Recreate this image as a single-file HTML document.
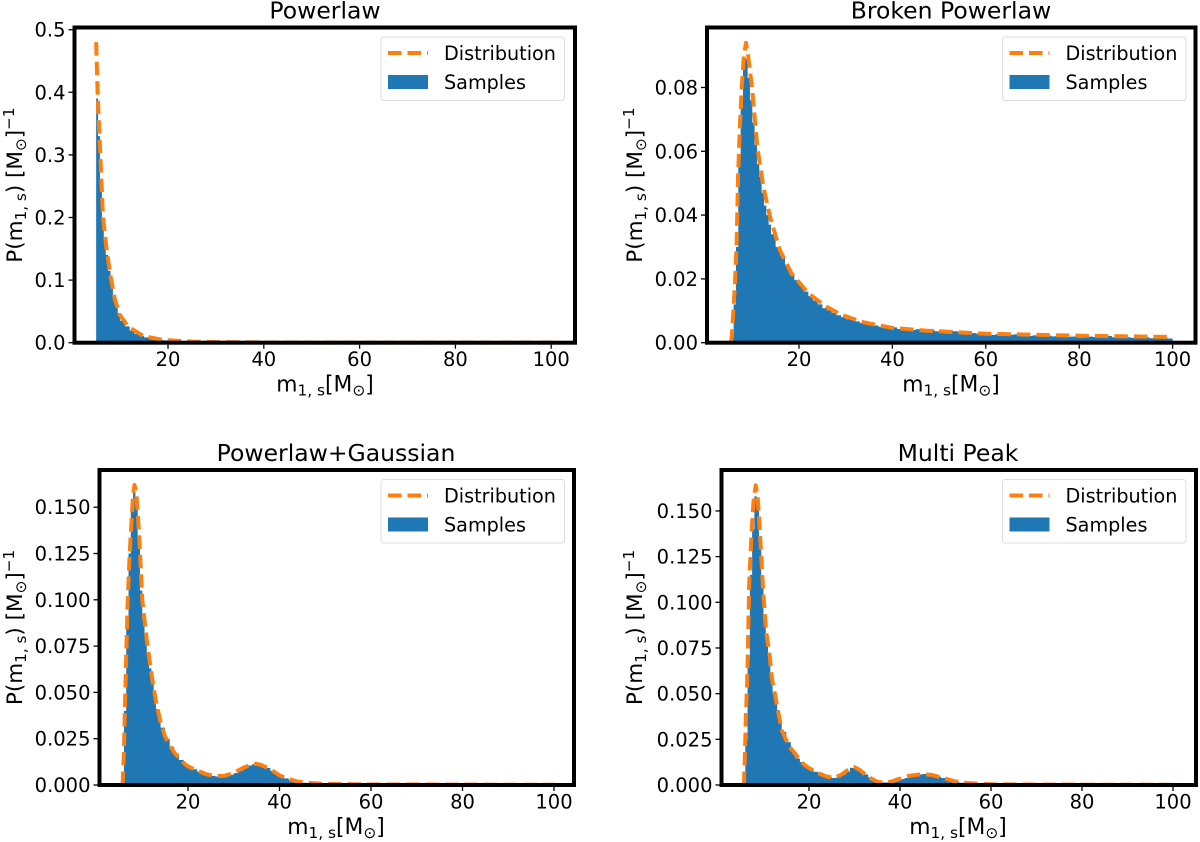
<!DOCTYPE html>
<html>
<head>
<meta charset="utf-8">
<title>Mass distributions</title>
<style>
html,body{margin:0;padding:0;background:#fff;}
svg{display:block;font-family:"DejaVu Sans",sans-serif;}
</style>
</head>
<body>
<svg id="chart" xmlns="http://www.w3.org/2000/svg" width="1200" height="842" viewBox="0 0 1200 842"></svg>
<script>
// ---- Tick labels ----
const xTicks = [20, 40, 60, 80, 100];
const powerlawYTicks = ["0.0", "0.1", "0.2", "0.3", "0.4", "0.5"];
const brokenYTicks = ["0.00", "0.02", "0.04", "0.06", "0.08"];
const gaussianYTicks = ["0.000", "0.025", "0.050", "0.075", "0.100", "0.125", "0.150"];
const multiYTicks = ["0.000", "0.025", "0.050", "0.075", "0.100", "0.125", "0.150"];

// ---- Powerlaw ----
const powerlawCurveMass = [5, 5.3, 5.87, 6.43, 7.2, 8.03, 8.94, 9.98, 11.7, 14.85, 19, 25, 30, 40, 50, 60, 80, 100];
const powerlawCurve = [0.48, 0.4, 0.3, 0.2, 0.148, 0.105, 0.0683, 0.044, 0.0256, 0.0107, 0.0043, 0.0018, 0.001, 0.0004, 0.0002, 0.0001, 0.00005, 0.00003];
const powerlawBinEdges = [5, 5.4, 5.8, 6.2, 6.6, 7, 7.5, 8, 8.5, 9, 9.5, 10, 11, 12, 13, 14, 15, 16, 17, 18, 19, 20, 21, 22, 23, 24, 25, 26, 27, 28, 29, 30, 35, 40, 50, 60, 80, 100];
const powerlawBins = [0.39, 0.33, 0.26, 0.2, 0.165, 0.14, 0.115, 0.092, 0.074, 0.058, 0.047, 0.035, 0.026, 0.019, 0.014, 0.0105, 0.0085, 0.0068, 0.0055, 0.0045, 0.0037, 0.003, 0.0026, 0.0022, 0.0019, 0.0016, 0.0014, 0.0012, 0.001, 0.0009, 0.0008, 0.0006, 0.0004, 0.0002, 0.0001, 0.00005, 0.00003];

// ---- Broken Powerlaw ----
const brokenCurveMass = [5.5, 5.7, 6.3, 6.66, 6.95, 7.35, 7.73, 8.2, 8.65, 9.1, 9.94, 11.07, 12.36, 13.8, 15.9, 18.4, 22, 25.6, 29.1, 34.1, 39.8, 47, 60, 70, 80, 90, 100];
const brokenCurve = [0, 0.004, 0.0187, 0.032, 0.052, 0.068, 0.08, 0.09, 0.094, 0.09, 0.08, 0.0614, 0.0489, 0.0395, 0.029, 0.0217, 0.0155, 0.0115, 0.0087, 0.0063, 0.0047, 0.0038, 0.0028, 0.0025, 0.0022, 0.002, 0.0018];
const brokenBins = [0, 0.002, 0.012, 0.03, 0.058, 0.074, 0.088, 0.089, 0.083, 0.076, 0.069, 0.062, 0.056, 0.052, 0.047, 0.043, 0.04, 0.037, 0.034, 0.03, 0.0272, 0.0245, 0.0212, 0.0196, 0.0178, 0.016, 0.0146, 0.0132, 0.012, 0.0108, 0.0102, 0.0094, 0.0086, 0.008, 0.0074, 0.0073, 0.0067, 0.0062, 0.006, 0.0056, 0.0054, 0.005, 0.0048, 0.0046, 0.0048, 0.0043, 0.0042, 0.0043, 0.004, 0.0042, 0.0038, 0.0038, 0.0041, 0.0036, 0.0034, 0.0035, 0.0037, 0.0036, 0.0033, 0.003, 0.0032, 0.003, 0.0028, 0.0029, 0.0028, 0.0024, 0.0026, 0.0023, 0.0027, 0.0025, 0.0026, 0.0023, 0.0022, 0.0021, 0.0023, 0.0021, 0.0023, 0.0022, 0.002, 0.0021, 0.002, 0.0018, 0.0019, 0.002, 0.0016, 0.0018, 0.0019, 0.0018, 0.0022, 0.002, 0.0021, 0.0017, 0.0017, 0.0016, 0.0017, 0.0015, 0.0014, 0.0019, 0.0017, 0.0014, 0.0015, 0.0013, 0.0014, 0.0013];

// ---- Powerlaw+Gaussian ----
const gaussianCurveMass = [5.7, 6, 6.2, 6.5, 6.8, 7.2, 7.5, 8, 8.3, 8.7, 9.3, 10, 11, 12, 13, 14, 15, 16, 17, 18, 19, 20, 22, 24, 26, 28, 30, 32, 34, 35, 36, 38, 40, 42, 44, 46, 50, 60, 80, 100];
const gaussianCurve = [0, 0.018, 0.04, 0.07, 0.098, 0.122, 0.136, 0.157, 0.162, 0.158, 0.136, 0.1, 0.078, 0.06, 0.045, 0.034, 0.026, 0.0215, 0.0175, 0.0145, 0.012, 0.01, 0.0078, 0.0058, 0.0048, 0.005, 0.0065, 0.0092, 0.0112, 0.0114, 0.0108, 0.0085, 0.0052, 0.0032, 0.0018, 0.0012, 0.0006, 0.0003, 0.0002, 0.0001];
const gaussianBins = [0, 0.004, 0.04, 0.09, 0.125, 0.148, 0.158, 0.152, 0.13, 0.105, 0.09, 0.08, 0.07, 0.063, 0.055, 0.048, 0.041, 0.036, 0.031, 0.025, 0.0205, 0.017, 0.0135, 0.0115, 0.0098, 0.0085, 0.0072, 0.0062, 0.0055, 0.0049, 0.0046, 0.0045, 0.005, 0.0056, 0.0064, 0.0076, 0.0092, 0.0105, 0.0112, 0.0118, 0.0106, 0.0092, 0.0076, 0.006, 0.0047, 0.0036, 0.0028, 0.0021, 0.0016, 0.0012, 0.001, 0.0008, 0.0007, 0.0006, 0.0006, 0.0005, 0.0005, 0.0005, 0.0004, 0.0004, 0.0004, 0.0004, 0.0003, 0.0003, 0.0003, 0.0003, 0.0003, 0.0003, 0.0003, 0.0003, 0.0002, 0.0002, 0.0002, 0.0002, 0.0002, 0.0002, 0.0002, 0.0002, 0.0002, 0.0002, 0.0002, 0.0002, 0.0002, 0.0002, 0.0002, 0.0002, 0.0002, 0.0002, 0.0002, 0.0001, 0.0001, 0.0001, 0.0001, 0.0001, 0.0001, 0.0001, 0.0001, 0.0001, 0.0001, 0.0001, 0.0001, 0.0001, 0.0001, 0.0001];

// ---- Multi Peak ----
const multiCurveMass = [5.7, 5.9, 6.1, 6.44, 6.66, 6.88, 7.4, 7.8, 8.28, 8.7, 9.08, 9.6, 9.96, 10.55, 11.4, 11.8, 12.5, 13, 14, 15, 16, 17, 18, 19, 20, 22, 24, 25.5, 27, 29, 30, 31, 33, 35, 36.3, 38, 40, 42, 45, 47, 50, 52, 55, 60, 70, 100];
const multiCurve = [0, 0.015, 0.035, 0.059, 0.0845, 0.112, 0.139, 0.155, 0.164, 0.158, 0.144, 0.121, 0.105, 0.0845, 0.07, 0.059, 0.05, 0.043, 0.03, 0.0245, 0.02, 0.017, 0.0135, 0.011, 0.0093, 0.0065, 0.0045, 0.004, 0.0055, 0.009, 0.0098, 0.0085, 0.0045, 0.0018, 0.0013, 0.0018, 0.0035, 0.005, 0.006, 0.0055, 0.0035, 0.002, 0.001, 0.0004, 0.0002, 0.0001];
const multiBins = [0, 0.002, 0.025, 0.07, 0.115, 0.14, 0.158, 0.155, 0.135, 0.112, 0.09, 0.078, 0.069, 0.058, 0.05, 0.046, 0.041, 0.035, 0.029, 0.0235, 0.0185, 0.0145, 0.0125, 0.0102, 0.0085, 0.0072, 0.0062, 0.0052, 0.0044, 0.0038, 0.0042, 0.0055, 0.0072, 0.0094, 0.0098, 0.0078, 0.0058, 0.0042, 0.0028, 0.0018, 0.0014, 0.0014, 0.0016, 0.0022, 0.0032, 0.0038, 0.0046, 0.0052, 0.0058, 0.006, 0.0058, 0.0054, 0.0046, 0.0038, 0.003, 0.0024, 0.0018, 0.0012, 0.001, 0.0008, 0.0006, 0.0005, 0.0005, 0.0004, 0.0004, 0.0003, 0.0003, 0.0003, 0.0003, 0.0003, 0.0002, 0.0002, 0.0002, 0.0002, 0.0002, 0.0002, 0.0002, 0.0002, 0.0002, 0.0002, 0.0002, 0.0002, 0.0002, 0.0002, 0.0001, 0.0001, 0.0001, 0.0001, 0.0001, 0.0001, 0.0001, 0.0001, 0.0001, 0.0001, 0.0001, 0.0001, 0.0001, 0.0001, 0.0001, 0.0001, 0.0001, 0.0001, 0.0001, 0.0001];

const NS = "http://www.w3.org/2000/svg";
const svg = document.getElementById("chart");

function mk(tag, parent, attrs, txt) {
  const e = document.createElementNS(NS, tag);
  for (const k in attrs) e.setAttribute(k, attrs[k]);
  if (txt !== undefined) e.textContent = txt;
  parent.appendChild(e);
  return e;
}

// Half-unit bins up to mass 14, one-unit bins beyond that.
function binEdges(count) {
  const edges = [5];
  for (let i = 0; i < count; i++) {
    const last = edges[edges.length - 1];
    edges.push(last < 14 ? last + 0.5 : last + 1);
  }
  return edges;
}

function addMathRuns(textEl, runs) {
  runs.forEach(function (r) {
    const t = mk("tspan", textEl, { "font-size": r[1] }, r[0]);
    if (r[2]) t.setAttribute("dy", r[2]);
  });
}

function drawPanel(p) {
  const g = mk("g", svg, {});
  
  

  const x = function (m) { return p.x20 + (m - 20) * p.xScale; };
  const y = function (v) { return p.y0 - v * p.yScale; };

  // histogram
  let d = "M" + x(p.edges[0]).toFixed(2) + " " + y(0).toFixed(2);
  p.bins.forEach(function (v, i) {
    d += "L" + x(p.edges[i]).toFixed(2) + " " + y(v).toFixed(2);
    d += "L" + x(p.edges[i + 1]).toFixed(2) + " " + y(v).toFixed(2);
  });
  d += "L" + x(p.edges[p.bins.length]).toFixed(2) + " " + y(0).toFixed(2) + "Z";
  const hist = mk("path", g, { d: d, fill: "#1f77b4" });
  
  

  // distribution curve
  const pts = p.curveMass.map(function (m, i) { return x(m).toFixed(2) + "," + y(p.curve[i]).toFixed(2); }).join(" ");
  const line = mk("polyline", g, { points: pts, fill: "none", stroke: "#ff7f0e", "stroke-width": 4, "stroke-dasharray": "13.5 6", "stroke-linejoin": "round" });
  
  

  // frame
  const frame = mk("rect", g, { x: p.left, y: p.top, width: p.right - p.left, height: p.y0 - p.top, fill: "none", stroke: "#000", "stroke-width": 4 });
  
  

  // x ticks
  xTicks.forEach(function (t) {
    mk("line", g, { x1: x(t), x2: x(t), y1: p.y0 + 2, y2: p.y0 + 6, stroke: "#000", "stroke-width": 1.3 });
    const lbl = mk("text", g, { x: x(t), y: p.y0 + 23.5, "text-anchor": "middle", "font-size": 19.5, fill: "#000" }, String(t));
    
    
  });

  // y ticks
  p.yTicks.forEach(function (t) {
    const v = parseFloat(t);
    mk("line", g, { x1: p.left - 6, x2: p.left - 2, y1: y(v), y2: y(v), stroke: "#000", "stroke-width": 1.3 });
    const lbl = mk("text", g, { x: p.left - 9, y: y(v) + 7, "text-anchor": "end", "font-size": 19.5, fill: "#000" }, t);
    
    
  });

  // title
  const title = mk("text", g, { x: p.titleX, y: p.top - 9, "text-anchor": "middle", "font-size": 23.5, fill: "#000" }, p.title);
  
  

  // x label
  const xl = mk("text", g, { x: p.titleX, y: p.y0 + 49, "text-anchor": "middle", "font-size": 21.8, fill: "#000" });
  
  
  addMathRuns(xl, [["m", 21.8], ["1, s", 15.4, 4], ["[M", 21.8, -4], ["\u2299", 15.4, 4], ["]", 21.8, -4]]);

  // y label
  const yc = (p.top + p.y0) / 2 + 0;
  const yl = mk("text", g, { x: 0, y: 0, transform: "translate(" + p.yLabelX + "," + yc + ") rotate(-90)", "text-anchor": "middle", "font-size": 21.5, fill: "#000" });
  
  
  addMathRuns(yl, [["P(m", 21.5], ["1, s", 15.2, 4], [") [M", 21.5, -4], ["\u2299", 15.2, 4], ["]", 21.5, -4], ["\u22121", 15.2, -8]]);

  // legend
  const lg = mk("g", g, {});
  
  
  const lx = p.legendX, ly = p.top + 9.5;
  mk("rect", lg, { x: lx, y: ly, width: 183.5, height: 63.5, rx: 3, fill: "#fff", "fill-opacity": 0.8, stroke: "#dcdcdc", "stroke-width": 1 });
  const lgLine = mk("line", lg, { x1: lx + 7, x2: lx + 47, y1: ly + 16, y2: ly + 16, stroke: "#ff7f0e", "stroke-width": 4, "stroke-dasharray": "13.5 6" });
  
  
  const lgT1 = mk("text", lg, { x: lx + 63, y: ly + 23, "font-size": 19.2, fill: "#000" }, "Distribution");
  
  
  const lgPatch = mk("rect", lg, { x: lx + 7, y: ly + 38, width: 40, height: 14, fill: "#1f77b4" });
  
  
  const lgT2 = mk("text", lg, { x: lx + 63, y: ly + 52, "font-size": 19.2, fill: "#000" }, "Samples");
  
  
}

drawPanel({ slug: "powerlaw", title: "Powerlaw", titleX: 325, left: 74.5, right: 575, top: 27.5, y0: 342.7, x20: 168, xScale: 4.79, yScale: 626, yLabelX: 22, legendX: 381, yTicks: powerlawYTicks, curveMass: powerlawCurveMass, curve: powerlawCurve, edges: powerlawBinEdges, bins: powerlawBins });
drawPanel({ slug: "broken-powerlaw", title: "Broken Powerlaw", titleX: 951, left: 707, right: 1195.5, top: 27.5, y0: 342.7, x20: 799, xScale: 4.67, yScale: 3190, yLabelX: 642, legendX: 1002.5, yTicks: brokenYTicks, curveMass: brokenCurveMass, curve: brokenCurve, edges: binEdges(brokenBins.length), bins: brokenBins });
drawPanel({ slug: "powerlaw-gaussian", title: "Powerlaw+Gaussian", titleX: 336, left: 99.5, right: 574, top: 470, y0: 785, x20: 188, xScale: 4.575, yScale: 1852, yLabelX: 22, legendX: 381, yTicks: gaussianYTicks, curveMass: gaussianCurveMass, curve: gaussianCurve, edges: binEdges(gaussianBins.length), bins: gaussianBins });
drawPanel({ slug: "multi-peak", title: "Multi Peak", titleX: 958, left: 721.5, right: 1196, top: 470, y0: 785, x20: 809, xScale: 4.55, yScale: 1827, yLabelX: 642, legendX: 1002.5, yTicks: multiYTicks, curveMass: multiCurveMass, curve: multiCurve, edges: binEdges(multiBins.length), bins: multiBins });
</script>
</body>
</html>
